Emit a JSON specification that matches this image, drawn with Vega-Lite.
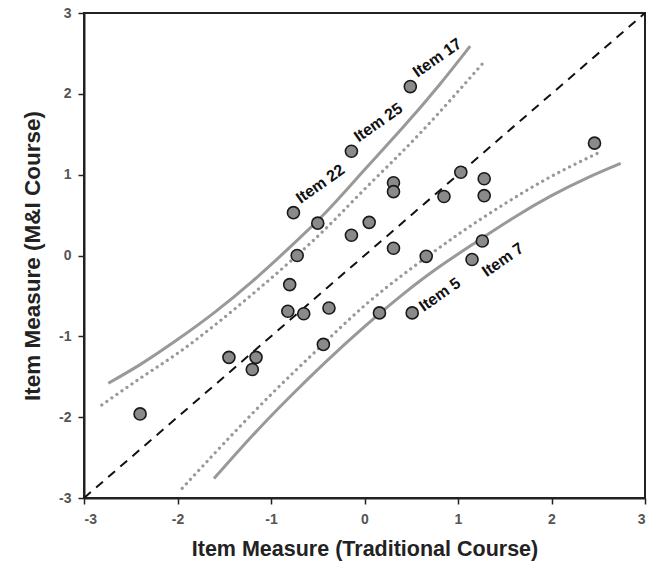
{
  "$schema": "https://vega.github.io/schema/vega-lite/v6.json",
  "width": 561,
  "height": 485,
  "autosize": {"type": "none"},
  "padding": {"left": 84, "top": 13, "right": 13, "bottom": 65},
  "background": "white",
  "config": {
    "view": {"stroke": "#222", "strokeWidth": 2},
    "font": "Liberation Sans"
  },
  "datasets": {
    "items": [
      {"trad": -2.40, "mi": -1.96, "label": ""},
      {"trad": -1.45, "mi": -1.26, "label": ""},
      {"trad": -1.16, "mi": -1.26, "label": ""},
      {"trad": -1.20, "mi": -1.41, "label": ""},
      {"trad": -0.82, "mi": -0.69, "label": ""},
      {"trad": -0.65, "mi": -0.72, "label": ""},
      {"trad": -0.38, "mi": -0.65, "label": ""},
      {"trad": -0.44, "mi": -1.10, "label": ""},
      {"trad": -0.80, "mi": -0.36, "label": ""},
      {"trad": -0.72, "mi": 0.00, "label": ""},
      {"trad": -0.76, "mi": 0.53, "label": "Item 22"},
      {"trad": -0.50, "mi": 0.40, "label": ""},
      {"trad": 0.05, "mi": 0.41, "label": ""},
      {"trad": -0.14, "mi": 0.25, "label": ""},
      {"trad": -0.14, "mi": 1.29, "label": "Item 25"},
      {"trad": 0.49, "mi": 2.09, "label": "Item 17"},
      {"trad": 0.31, "mi": 0.90, "label": ""},
      {"trad": 0.31, "mi": 0.79, "label": ""},
      {"trad": 0.31, "mi": 0.09, "label": ""},
      {"trad": 0.16, "mi": -0.71, "label": ""},
      {"trad": 0.51, "mi": -0.71, "label": "Item 5"},
      {"trad": 0.66, "mi": -0.01, "label": ""},
      {"trad": 0.85, "mi": 0.73, "label": ""},
      {"trad": 1.03, "mi": 1.03, "label": ""},
      {"trad": 1.28, "mi": 0.95, "label": ""},
      {"trad": 1.28, "mi": 0.74, "label": ""},
      {"trad": 1.26, "mi": 0.18, "label": ""},
      {"trad": 1.15, "mi": -0.05, "label": "Item 7"},
      {"trad": 2.46, "mi": 1.39, "label": ""}
    ],
    "bands": [
      {"band": "upper_solid", "trad": -2.74, "mi": -1.58},
      {"band": "upper_solid", "trad": -2.40, "mi": -1.35},
      {"band": "upper_solid", "trad": -2.00, "mi": -1.04},
      {"band": "upper_solid", "trad": -1.60, "mi": -0.70},
      {"band": "upper_solid", "trad": -1.20, "mi": -0.32},
      {"band": "upper_solid", "trad": -0.80, "mi": 0.10},
      {"band": "upper_solid", "trad": -0.40, "mi": 0.55},
      {"band": "upper_solid", "trad": 0.00, "mi": 1.06},
      {"band": "upper_solid", "trad": 0.40, "mi": 1.57},
      {"band": "upper_solid", "trad": 0.80, "mi": 2.11},
      {"band": "upper_solid", "trad": 1.13, "mi": 2.59},
      {"band": "upper_dotted", "trad": -2.81, "mi": -1.85},
      {"band": "upper_dotted", "trad": -2.40, "mi": -1.52},
      {"band": "upper_dotted", "trad": -2.00, "mi": -1.21},
      {"band": "upper_dotted", "trad": -1.60, "mi": -0.86},
      {"band": "upper_dotted", "trad": -1.20, "mi": -0.48},
      {"band": "upper_dotted", "trad": -0.80, "mi": -0.08},
      {"band": "upper_dotted", "trad": -0.40, "mi": 0.35},
      {"band": "upper_dotted", "trad": 0.00, "mi": 0.82},
      {"band": "upper_dotted", "trad": 0.40, "mi": 1.28},
      {"band": "upper_dotted", "trad": 0.80, "mi": 1.77},
      {"band": "upper_dotted", "trad": 1.29, "mi": 2.41},
      {"band": "lower_dotted", "trad": -1.95, "mi": -2.88},
      {"band": "lower_dotted", "trad": -1.50, "mi": -2.32},
      {"band": "lower_dotted", "trad": -1.00, "mi": -1.72},
      {"band": "lower_dotted", "trad": -0.50, "mi": -1.16},
      {"band": "lower_dotted", "trad": 0.00, "mi": -0.62},
      {"band": "lower_dotted", "trad": 0.50, "mi": -0.16},
      {"band": "lower_dotted", "trad": 1.00, "mi": 0.26},
      {"band": "lower_dotted", "trad": 1.50, "mi": 0.64},
      {"band": "lower_dotted", "trad": 2.00, "mi": 0.98},
      {"band": "lower_dotted", "trad": 2.52, "mi": 1.28},
      {"band": "lower_solid", "trad": -1.61, "mi": -2.76},
      {"band": "lower_solid", "trad": -1.20, "mi": -2.23},
      {"band": "lower_solid", "trad": -0.80, "mi": -1.75},
      {"band": "lower_solid", "trad": -0.40, "mi": -1.30},
      {"band": "lower_solid", "trad": 0.00, "mi": -0.88},
      {"band": "lower_solid", "trad": 0.40, "mi": -0.49},
      {"band": "lower_solid", "trad": 0.80, "mi": -0.14},
      {"band": "lower_solid", "trad": 1.20, "mi": 0.17},
      {"band": "lower_solid", "trad": 1.60, "mi": 0.47},
      {"band": "lower_solid", "trad": 2.00, "mi": 0.74},
      {"band": "lower_solid", "trad": 2.40, "mi": 0.97},
      {"band": "lower_solid", "trad": 2.74, "mi": 1.14}
    ],
    "identity": [
      {"trad": -3, "mi": -3},
      {"trad": 3, "mi": 3}
    ]
  },
  "encoding": {
    "x": {
      "field": "trad", "type": "quantitative",
      "scale": {"domain": [-3, 3], "nice": false, "zero": false},
      "axis": {
        "title": "Item Measure (Traditional Course)",
        "values": [-3, -2, -1, 0, 1, 2, 3],
        "labelExpr": "datum.value < 0 ? '-' + abs(datum.value) : '' + datum.value",
        "grid": false,
        "domainColor": "#222", "domainWidth": 2,
        "tickColor": "#222", "tickWidth": 1.5, "tickSize": 6,
        "labelColor": "#555", "labelFont": "Liberation Sans", "labelFontWeight": "bold", "labelFontSize": 14, "labelPadding": 8,
        "titleColor": "#222", "titleFont": "Liberation Sans", "titleFontWeight": "bold", "titleFontSize": 21.5, "titlePadding": 12
      }
    },
    "y": {
      "field": "mi", "type": "quantitative",
      "scale": {"domain": [-3, 3], "nice": false, "zero": false},
      "axis": {
        "title": "Item Measure (M&I Course)",
        "values": [-3, -2, -1, 0, 1, 2, 3],
        "labelExpr": "datum.value < 0 ? '-' + abs(datum.value) : '' + datum.value",
        "grid": false,
        "domainColor": "#222", "domainWidth": 2,
        "tickColor": "#222", "tickWidth": 1.5, "tickSize": 6,
        "labelColor": "#555", "labelFont": "Liberation Sans", "labelFontWeight": "bold", "labelFontSize": 14, "labelPadding": 7,
        "titleColor": "#222", "titleFont": "Liberation Sans", "titleFontWeight": "bold", "titleFontSize": 22.5, "titlePadding": 14
      }
    }
  },
  "layer": [
    {
      "data": {"name": "identity"},
      "mark": {"type": "line", "color": "#111", "strokeWidth": 2, "strokeDash": [9, 7], "clip": true},
      "encoding": {}
    },
    {
      "data": {"name": "bands"},
      "transform": [{"filter": "datum.band === 'upper_solid' || datum.band === 'lower_solid'"}],
      "mark": {"type": "line", "color": "#999", "strokeWidth": 3, "interpolate": "natural"},
      "encoding": {"detail": {"field": "band"}, "order": {"field": "trad", "type": "quantitative"}}
    },
    {
      "data": {"name": "bands"},
      "transform": [{"filter": "datum.band === 'upper_dotted' || datum.band === 'lower_dotted'"}],
      "mark": {"type": "line", "color": "#999", "strokeWidth": 3.2, "strokeDash": [0.1, 6], "strokeCap": "round", "interpolate": "natural"},
      "encoding": {"detail": {"field": "band"}, "order": {"field": "trad", "type": "quantitative"}}
    },
    {
      "data": {"name": "items"},
      "mark": {"type": "point", "shape": "circle", "filled": true, "fill": "#8a8a8a", "stroke": "#1a1a1a", "strokeWidth": 1.6, "size": 145, "opacity": 1}
    },
    {
      "data": {"name": "items"},
      "transform": [{"filter": "datum.label === 'Item 22' || datum.label === 'Item 25' || datum.label === 'Item 17'"}],
      "mark": {"type": "text", "angle": 325, "align": "left", "baseline": "alphabetic", "dx": 11, "dy": -3, "font": "Liberation Sans", "fontWeight": "bold", "fontSize": 16, "color": "#111"},
      "encoding": {"text": {"field": "label"}}
    },
    {
      "data": {"name": "items"},
      "transform": [{"filter": "datum.label === 'Item 5'"}],
      "mark": {"type": "text", "angle": 325, "align": "left", "baseline": "middle", "dx": 10, "dy": 1, "font": "Liberation Sans", "fontWeight": "bold", "fontSize": 16, "color": "#111"},
      "encoding": {"text": {"field": "label"}}
    },
    {
      "data": {"name": "items"},
      "transform": [{"filter": "datum.label === 'Item 7'"}],
      "mark": {"type": "text", "angle": 325, "align": "left", "baseline": "top", "dx": 2, "dy": 10, "font": "Liberation Sans", "fontWeight": "bold", "fontSize": 16, "color": "#111"},
      "encoding": {"text": {"field": "label"}}
    }
  ]
}
